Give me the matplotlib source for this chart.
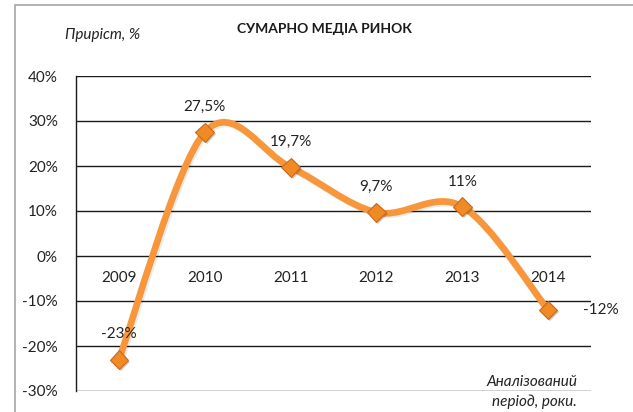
import numpy as np
import matplotlib.pyplot as plt
from matplotlib.path import Path
from matplotlib.patches import PathPatch, Rectangle
import matplotlib.patheffects as pe

plt.rcParams['font.family'] = ['Lato', 'DejaVu Sans']

# data
years = ['2009', '2010', '2011', '2012', '2013', '2014']
growth = [-23, 27.5, 19.7, 9.7, 11, -12]
labels = ['-23%', '27,5%', '19,7%', '9,7%', '11%', '-12%']
yticks = [-30, -20, -10, 0, 10, 20, 30, 40]

orange = '#F7963A'

fig = plt.figure(figsize=(6.33, 4.12), dpi=100)
# outer chart frame (left and top edges visible)
fig.add_artist(Rectangle((15/633, -0.1), 1.2, 1 - 5/412 + 0.1, transform=fig.transFigure,
                         fill=False, edgecolor='#a6a6a6', lw=1.2))

ax = fig.add_axes([76/633, 1 - 391/412, (591 - 76)/633, (391 - 76)/412])
x = np.arange(len(years))
ax.set_xlim(-0.5, len(years) - 0.5)
ax.set_ylim(-30, 40)

for v in yticks:
    ax.axhline(v, color='#1a1a1a', lw=1.0, zorder=1)
for s in ['top', 'right', 'bottom']:
    ax.spines[s].set_visible(False)
ax.spines['left'].set_color('#1a1a1a')
ax.spines['left'].set_linewidth(1.0)
ax.set_yticks(yticks)
ax.set_yticklabels([f'{v}%' for v in yticks], fontsize=11, color='#222222')
ax.tick_params(axis='y', length=0, pad=13)
ax.set_xticks([])

# category labels sit just below the zero line
for xi, yr in zip(x, years):
    ax.annotate(yr, (xi, 0), xytext=(0, -16), textcoords='offset points',
                ha='center', va='center', fontsize=11, color='#222222')

# smoothed line (Bezier segments like a spreadsheet "smooth line")
pts = np.column_stack([x, growth]).astype(float)
ext = np.vstack([pts[0], pts, pts[-1]])
verts = [tuple(pts[0])]
codes = [Path.MOVETO]
for i in range(len(pts) - 1):
    p0, p1, p2, p3 = ext[i], ext[i + 1], ext[i + 2], ext[i + 3]
    c1 = p1 + (p2 - p0) / 6
    c2 = p2 - (p3 - p1) / 6
    verts += [tuple(c1), tuple(c2), tuple(p2)]
    codes += [Path.CURVE4] * 3
curve = PathPatch(Path(verts, codes), fill=False, edgecolor=orange, lw=4.8,
                  capstyle='round', joinstyle='round', zorder=3,
                  path_effects=[pe.SimpleLineShadow(offset=(1.2, -1.2), alpha=0.08), pe.Normal()])
ax.add_patch(curve)

ax.plot(x, growth, linestyle='none', marker='D', markersize=9.5,
        markerfacecolor='#F08A24', markeredgecolor='#C9691A', markeredgewidth=0.8, zorder=4,
        path_effects=[pe.SimplePatchShadow(offset=(1.5, -1.5), alpha=0.25), pe.Normal()])

# data labels
for xi, yv, lab in zip(x, growth, labels):
    if xi == len(x) - 1:
        ax.annotate(lab, (xi, yv), xytext=(38, 0), textcoords='offset points',
                    ha='center', va='center', fontsize=11, color='#222222')
    else:
        ax.annotate(lab, (xi, yv), xytext=(0, 18), textcoords='offset points',
                    ha='center', va='center', fontsize=11, color='#222222')

fig.text(324/633, 1 - 29/412, 'СУМАРНО МЕДІА РИНОК', ha='center', va='center',
         fontsize=10, fontweight='bold', color='#1a1a1a')
fig.text(103/633, 1 - 35/412, 'Приріст, %', ha='center', va='center',
         fontsize=11, style='italic', color='#222222')
fig.text(577/633, 1 - 392/412, 'Аналізований\nперіод, роки.', ha='right', va='center',
         fontsize=11, style='italic', color='#222222', linespacing=1.45)

fig.savefig('out.png', dpi=100)
